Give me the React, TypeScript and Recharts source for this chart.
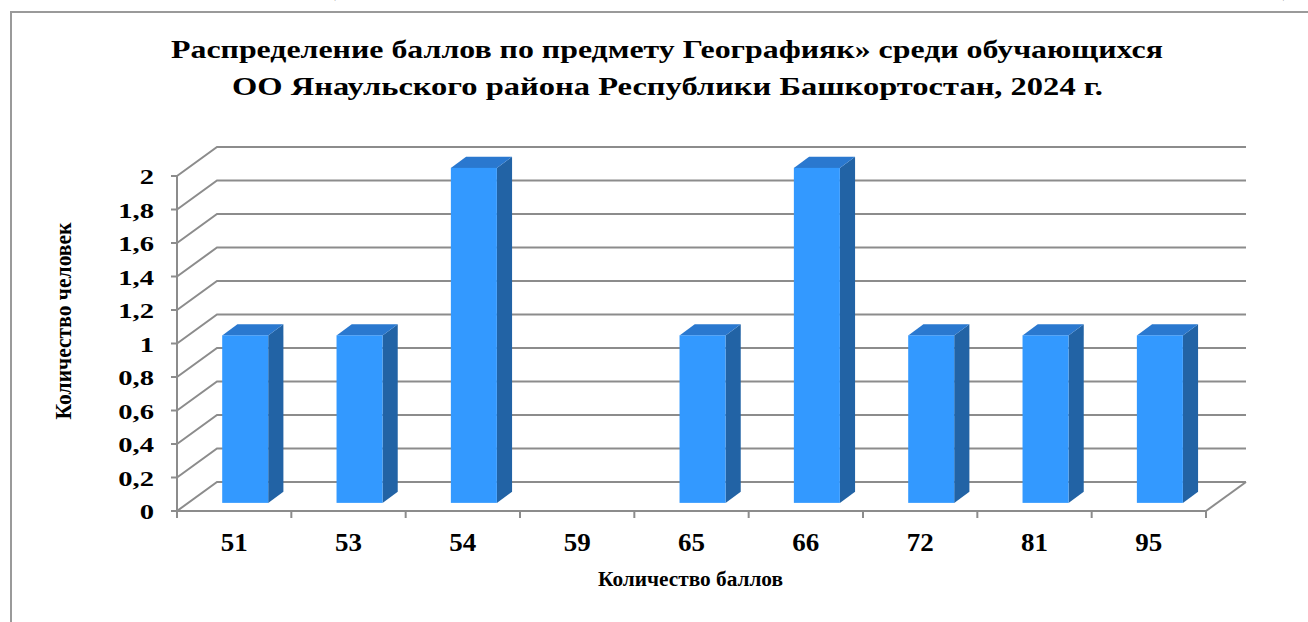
import React from 'react';
import { BarChart, Bar, XAxis, YAxis, CartesianGrid } from 'recharts';

const categories = ['51', '53', '54', '59', '65', '66', '72', '81', '95'];
const counts = [1, 1, 2, 0, 1, 2, 1, 1, 1];
const yTicks = [0, 0.2, 0.4, 0.6, 0.8, 1, 1.2, 1.4, 1.6, 1.8, 2];

const titleLine1 = 'Распределение баллов по предмету Географияк» среди обучающихся';
const titleLine2 = 'ОО Янаульского района Республики Башкортостан, 2024 г.';
const yTitle = 'Количество человек';
const xTitle = 'Количество баллов';
const topCutText = 'редмету «География» (по количеству участников, получивших соответствующий балл)';

const data = categories.map((c, i) => ({ score: c, count: counts[i] }));

const FONT = '"Liberation Serif", "Times New Roman", serif';
const GRID = '#8c8c8c';
const DX = 40;
const DY = -29;
const BAR_START = 0.28;
const BAR_DEPTH = 0.38;
const FRONT = '#3399ff';
const SIDE = '#2263a5';
const TOP = '#2a78cf';
const BAND = (1206 - 177) / categories.length;

const fmt = (v: number) => String(v).replace('.', ',');

const Bar3D = (props: any) => {
  const { x, y, width, height } = props;
  if (!height || height <= 0) return null;
  const x0 = x + DX * BAR_START;
  const y0 = y + DY * BAR_START;
  const sx = DX * BAR_DEPTH;
  const sy = DY * BAR_DEPTH;
  const w = width;
  const h = height;
  return (
    <g>
      <polygon
        points={`${x0 + w},${y0} ${x0 + w + sx},${y0 + sy} ${x0 + w + sx},${y0 + h + sy} ${x0 + w},${y0 + h}`}
        fill={SIDE}
      />
      <polygon
        points={`${x0},${y0} ${x0 + sx},${y0 + sy} ${x0 + w + sx},${y0 + sy} ${x0 + w},${y0}`}
        fill={TOP}
      />
      <rect x={x0} y={y0} width={w} height={h} fill={FRONT} />
    </g>
  );
};

const gridLine = (props: any) => {
  const { x1, y1, x2 } = props;
  return (
    <path
      key={`g-${y1}`}
      d={`M${x1},${y1} L${x1 + DX},${y1 + DY} L${x2 + DX},${y1 + DY}`}
      stroke={GRID}
      strokeWidth={2}
      fill="none"
    />
  );
};

const YTick = (props: any) => {
  const { x, y, payload } = props;
  return (
    <text
      x={0}
      y={0}
      transform={`translate(${x},${y + 8}) scale(1.3,1)`}
      textAnchor="end"
      fontFamily={FONT}
      fontWeight="bold"
      fontSize={22}
      fill="#000"
    >
      {fmt(payload.value)}
    </text>
  );
};

const XTick = (props: any) => {
  const { x, y, payload, index } = props;
  const half = BAND / 2;
  const last = index === categories.length - 1;
  return (
    <g>
      <line x1={x - half} y1={y} x2={x - half} y2={y + 7} stroke={GRID} strokeWidth={2} />
      {last && (
        <>
          <line x1={x + half} y1={y} x2={x + half} y2={y + 7} stroke={GRID} strokeWidth={2} />
          <line x1={x + half} y1={y} x2={x + half + DX} y2={y + DY} stroke={GRID} strokeWidth={2} />
        </>
      )}
      <text
        x={0}
        y={0}
        transform={`translate(${x},${y + 40}) scale(1.08,1)`}
        textAnchor="middle"
        fontFamily={FONT}
        fontWeight="bold"
        fontSize={25}
        fill="#000"
      >
        {payload.value}
      </text>
    </g>
  );
};

export default function App() {
  return (
    <div style={{ position: 'absolute', left: 0, top: 0, width: 1308, height: 622, overflow: 'hidden', background: '#fff' }}>
      <div
        style={{
          position: 'absolute',
          left: 10,
          top: 11,
          width: 1400,
          height: 700,
          border: '2px solid #9a9a9a',
        }}
      />
      <svg width={1308} height={622} style={{ position: 'absolute', left: 0, top: 0 }}>
        <text x={1} y={-5} textLength={1292} lengthAdjust="spacingAndGlyphs" fontFamily={FONT} fontWeight="bold" fontSize={26}>
          {topCutText}
        </text>
        <text x={171} y={58} textLength={992} lengthAdjust="spacingAndGlyphs" fontFamily={FONT} fontWeight="bold" fontSize={25}>
          {titleLine1}
        </text>
        <text x={232} y={95} textLength={871} lengthAdjust="spacingAndGlyphs" fontFamily={FONT} fontWeight="bold" fontSize={25}>
          {titleLine2}
        </text>
        <g transform="translate(63,321) scale(1.3,1) rotate(-90)">
          <text x={0} y={6} textAnchor="middle" textLength={197} lengthAdjust="spacingAndGlyphs" fontFamily={FONT} fontWeight="bold" fontSize={17}>
            {yTitle}
          </text>
        </g>
        <text x={598} y={586} textLength={185} lengthAdjust="spacingAndGlyphs" fontFamily={FONT} fontWeight="bold" fontSize={20}>
          {xTitle}
        </text>
      </svg>
      <div style={{ position: 'absolute', left: 0, top: 0 }}>
        <BarChart
          width={1308}
          height={622}
          data={data}
          margin={{ top: 176, right: 102, bottom: 51, left: 0 }}
          barSize={46}
        >
          <CartesianGrid vertical={false} horizontal={gridLine} />
          <XAxis
            dataKey="score"
            height={60}
            tickSize={0}
            tickMargin={0}
            axisLine={{ stroke: GRID, strokeWidth: 2 }}
            tickLine={false}
            tick={XTick}
            interval={0}
          />
          <YAxis
            width={177}
            domain={[0, 2]}
            ticks={yTicks}
            interval={0}
            tickSize={6}
            tickMargin={17}
            axisLine={{ stroke: GRID, strokeWidth: 2 }}
            tickLine={{ stroke: GRID, strokeWidth: 2 }}
            tick={YTick}
          />
          <Bar dataKey="count" shape={Bar3D} isAnimationActive={false} />
        </BarChart>
      </div>
    </div>
  );
}
